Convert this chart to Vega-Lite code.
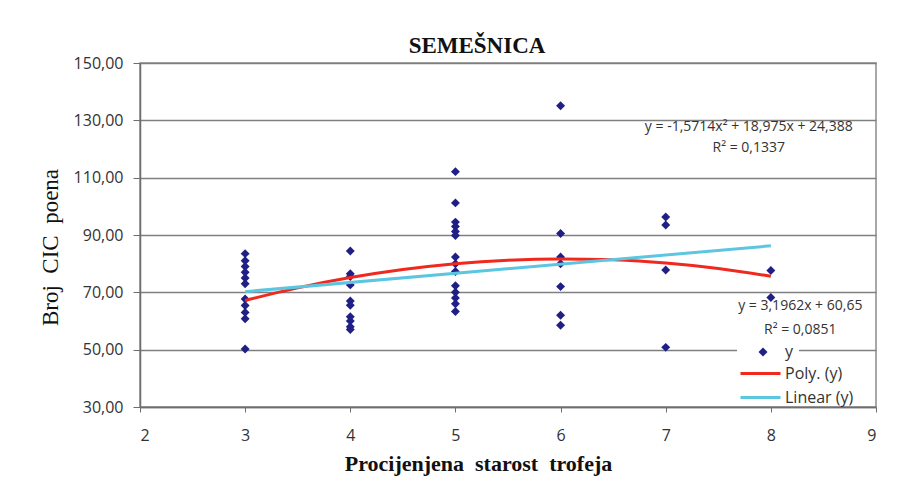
{
  "$schema": "https://vega.github.io/schema/vega-lite/v6.json",
  "autosize": "none",
  "width": 736,
  "height": 344,
  "padding": {"left": 140, "top": 63, "right": 23, "bottom": 73},
  "background": "white",
  "title": {
    "text": "SEMEŠNICA",
    "font": "Liberation Serif",
    "fontSize": 23,
    "fontWeight": "bold",
    "color": "#111",
    "anchor": "middle",
    "dx": -31,
    "offset": -3
  },
  "config": {
    "view": {"stroke": "#8c8c8c", "strokeWidth": 1.5},
    "axis": {
      "labelFont": "Open Sans",
      "labelFontSize": 16,
      "labelColor": "#333",
      "domainColor": "#6e6e6e",
      "tickColor": "#6e6e6e",
      "titleFont": "Liberation Serif",
      "titleColor": "#111"
    }
  },
  "datasets": {
    "pts": [
      {"age": 3, "cic": 83.5, "series": "y"},
      {"age": 3, "cic": 81, "series": "y"},
      {"age": 3, "cic": 79, "series": "y"},
      {"age": 3, "cic": 77, "series": "y"},
      {"age": 3, "cic": 75, "series": "y"},
      {"age": 3, "cic": 73, "series": "y"},
      {"age": 3, "cic": 67.7, "series": "y"},
      {"age": 3, "cic": 65.4, "series": "y"},
      {"age": 3, "cic": 63, "series": "y"},
      {"age": 3, "cic": 60.8, "series": "y"},
      {"age": 3, "cic": 50.2, "series": "y"},
      {"age": 4, "cic": 84.4, "series": "y"},
      {"age": 4, "cic": 76.5, "series": "y"},
      {"age": 4, "cic": 75.5, "series": "y"},
      {"age": 4, "cic": 72.6, "series": "y"},
      {"age": 4, "cic": 67, "series": "y"},
      {"age": 4, "cic": 65.5, "series": "y"},
      {"age": 4, "cic": 61.5, "series": "y"},
      {"age": 4, "cic": 60, "series": "y"},
      {"age": 4, "cic": 58, "series": "y"},
      {"age": 4, "cic": 57, "series": "y"},
      {"age": 5, "cic": 112.1, "series": "y"},
      {"age": 5, "cic": 101.2, "series": "y"},
      {"age": 5, "cic": 94.5, "series": "y"},
      {"age": 5, "cic": 93, "series": "y"},
      {"age": 5, "cic": 91.2, "series": "y"},
      {"age": 5, "cic": 89.8, "series": "y"},
      {"age": 5, "cic": 82.3, "series": "y"},
      {"age": 5, "cic": 80, "series": "y"},
      {"age": 5, "cic": 77.3, "series": "y"},
      {"age": 5, "cic": 72.3, "series": "y"},
      {"age": 5, "cic": 70, "series": "y"},
      {"age": 5, "cic": 68, "series": "y"},
      {"age": 5, "cic": 66, "series": "y"},
      {"age": 5, "cic": 63.3, "series": "y"},
      {"age": 6, "cic": 135.1, "series": "y"},
      {"age": 6, "cic": 90.5, "series": "y"},
      {"age": 6, "cic": 82.3, "series": "y"},
      {"age": 6, "cic": 80, "series": "y"},
      {"age": 6, "cic": 72, "series": "y"},
      {"age": 6, "cic": 62, "series": "y"},
      {"age": 6, "cic": 58.5, "series": "y"},
      {"age": 7, "cic": 96.3, "series": "y"},
      {"age": 7, "cic": 93.5, "series": "y"},
      {"age": 7, "cic": 77.8, "series": "y"},
      {"age": 7, "cic": 50.8, "series": "y"},
      {"age": 8, "cic": 77.6, "series": "y"},
      {"age": 8, "cic": 68.2, "series": "y"}
    ],
    "trend": [
      {"age": 3, "cic": 67.17, "series": "Poly. (y)"},
      {"age": 3.5, "cic": 71.55, "series": "Poly. (y)"},
      {"age": 4, "cic": 75.14, "series": "Poly. (y)"},
      {"age": 4.5, "cic": 77.95, "series": "Poly. (y)"},
      {"age": 5, "cic": 79.98, "series": "Poly. (y)"},
      {"age": 5.5, "cic": 81.21, "series": "Poly. (y)"},
      {"age": 6, "cic": 81.67, "series": "Poly. (y)"},
      {"age": 6.5, "cic": 81.33, "series": "Poly. (y)"},
      {"age": 7, "cic": 80.21, "series": "Poly. (y)"},
      {"age": 7.5, "cic": 78.31, "series": "Poly. (y)"},
      {"age": 8, "cic": 75.62, "series": "Poly. (y)"},
      {"age": 3, "cic": 70.24, "series": "Linear (y)"},
      {"age": 8, "cic": 86.22, "series": "Linear (y)"}
    ],
    "notes": [
      {"age": 7.79, "cic": 127.6, "text": "y = -1,5714x² + 18,975x + 24,388"},
      {"age": 7.79, "cic": 120.5, "text": "R² = 0,1337"},
      {"age": 8.28, "cic": 65.4, "text": "y = 3,1962x + 60,65"},
      {"age": 8.28, "cic": 57.0, "text": "R² = 0,0851"}
    ]
  },
  "layer": [
    {
      "data": {"name": "pts"},
      "mark": {"type": "point", "filled": true, "size": 80, "opacity": 1, "color": "#1f1f86"},
      "encoding": {
        "x": {
          "field": "age", "type": "quantitative",
          "scale": {"domain": [2, 9], "nice": false, "zero": false},
          "axis": {
            "values": [2, 3, 4, 5, 6, 7, 8, 9],
            "format": "d",
            "grid": false,
            "tickSize": 5,
            "labelPadding": 15,
            "domainWidth": 1.5,
            "title": "Procijenjena\u00a0\u00a0starost\u00a0\u00a0trofeja",
            "titleFontSize": 22,
            "titleFontWeight": "bold",
            "titleX": 338,
            "titleY": 56,
            "titleBaseline": "middle"
          }
        },
        "y": {
          "field": "cic", "type": "quantitative",
          "scale": {"domain": [30, 150], "nice": false, "zero": false},
          "axis": {
            "values": [30, 50, 70, 90, 110, 130, 150],
            "labelExpr": "replace(format(datum.value, '.2f'), '.', ',')",
            "grid": true,
            "gridColor": "#7f7f7f",
            "gridWidth": 1.5,
            "tickSize": 7,
            "labelPadding": 10,
            "domainWidth": 1.5,
            "title": "Broj\u00a0\u00a0CIC\u00a0\u00a0poena",
            "titleFontSize": 23,
            "titleFontWeight": "normal",
            "titleX": -90,
            "titleY": 184,
            "titleBaseline": "middle"
          }
        },
        "shape": {
          "field": "series", "type": "nominal",
          "scale": {"domain": ["y"], "range": ["diamond"]},
          "legend": {
            "orient": "none",
            "legendX": 597,
            "legendY": 276,
            "title": null,
            "fillColor": "white",
            "padding": 5,
            "labelFont": "Open Sans",
            "labelFontSize": 16,
            "labelColor": "#333",
            "labelExpr": "datum.label + '\u00a0\u00a0\u00a0\u00a0\u00a0\u00a0\u00a0\u00a0\u00a0\u00a0\u00a0\u00a0\u00a0\u00a0\u00a0\u00a0\u00a0\u00a0'",
            "symbolSize": 80,
            "symbolFillColor": "#1f1f86",
            "symbolStrokeWidth": 0,
            "symbolOffset": 13,
            "labelOffset": 14
          }
        }
      }
    },
    {
      "data": {"name": "trend"},
      "mark": {"type": "line", "strokeWidth": 3, "interpolate": "monotone"},
      "encoding": {
        "x": {"field": "age", "type": "quantitative"},
        "y": {"field": "cic", "type": "quantitative"},
        "color": {
          "field": "series", "type": "nominal",
          "scale": {"domain": ["Poly. (y)", "Linear (y)"], "range": ["#f0281e", "#5cc5e0"]},
          "legend": {
            "orient": "none",
            "legendX": 604,
            "legendY": 294,
            "title": null,
            "padding": 5,
            "labelFont": "Open Sans",
            "labelFontSize": 16,
            "labelColor": "#333",
            "labelOffset": 13,
            "rowPadding": 4,
            "symbolType": "M-2,0H2",
            "symbolSize": 400,
            "symbolOffset": 0,
            "symbolStrokeWidth": 3
          }
        }
      }
    },
    {
      "data": {"name": "notes"},
      "mark": {"type": "text", "font": "Open Sans", "fontSize": 14, "color": "#333", "align": "center", "baseline": "middle"},
      "encoding": {
        "x": {"field": "age", "type": "quantitative"},
        "y": {"field": "cic", "type": "quantitative"},
        "text": {"field": "text"}
      }
    }
  ]
}
